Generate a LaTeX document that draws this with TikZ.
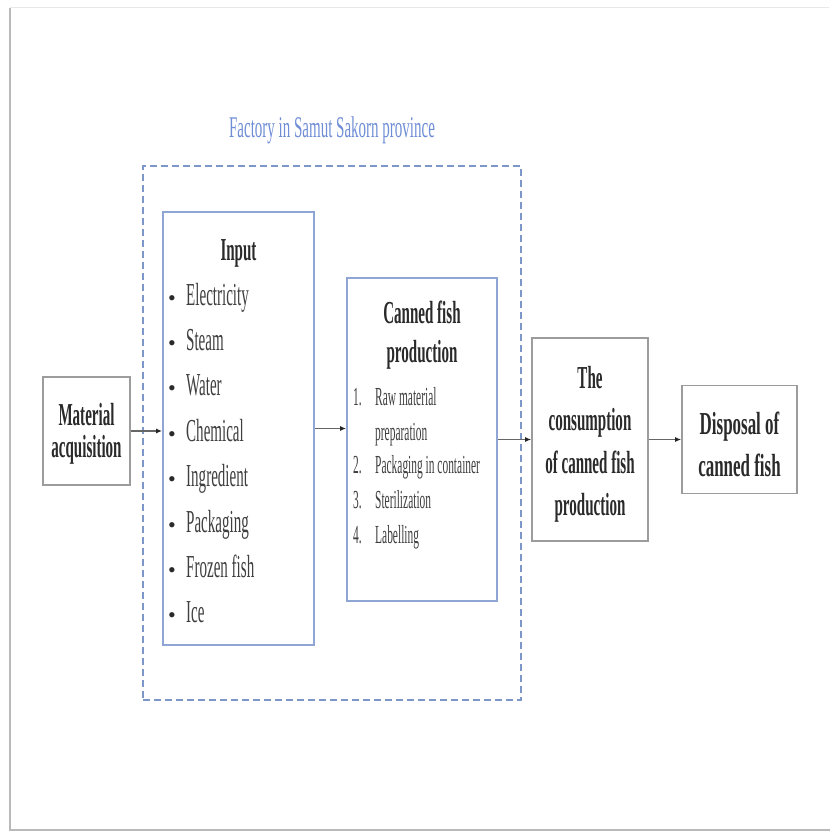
\documentclass[tikz,border=0pt]{standalone}
\usepackage{fontspec}
\setmainfont{Liberation Serif}
\newfontfamily\condA{Liberation Serif}[FakeStretch=0.47]
\newfontfamily\condT{Liberation Serif}[FakeStretch=0.5]
\newfontfamily\condS{Liberation Serif}[FakeStretch=0.44]
\newfontfamily\condD{Liberation Serif}[FakeStretch=0.53]
\usetikzlibrary{arrows.meta}
\definecolor{txt}{HTML}{2A2A2A}
\definecolor{bluebox}{HTML}{8FA6D4}
\definecolor{dashblue}{HTML}{7E97C9}
\definecolor{titleblue}{HTML}{6F8ED6}
\definecolor{graybox}{HTML}{9C9C9C}
\definecolor{conn}{HTML}{666666}
\begin{document}
\begin{tikzpicture}[x=1pt,y=-1pt,
  gbox/.style={draw=graybox,line width=1.6pt,inner sep=0pt,fill=white},
  bbox/.style={draw=bluebox,line width=1.8pt,inner sep=0pt,fill=white},
  hd/.style={font=\condA\bfseries\fontsize{32}{34}\selectfont,text=txt,inner sep=0pt,anchor=base},
  hdd/.style={font=\condD\bfseries\fontsize{32}{34}\selectfont,text=txt,inner sep=0pt,anchor=base},
  itemtxt/.style={font=\condA\fontsize{32}{34}\selectfont,text=txt!90,inner sep=0pt,anchor=base west},
  smalltxt/.style={font=\condS\fontsize{26}{28}\selectfont,text=txt!90,inner sep=0pt,anchor=base west},
  bul/.style={font=\fontsize{22}{24}\selectfont,text=txt,inner sep=0pt,anchor=base},
  arr/.style={draw=conn,line width=1.4pt,-{Latex[length=6pt,width=5pt,color=black!85]}}
]
\useasboundingbox (0,0) rectangle (830,834);
\fill[white] (0,0) rectangle (830,834);
% page frame
\draw[gray!18,line width=1pt] (10,8) -- (829,8);
\draw[gray!55,line width=1.6pt] (10,8) -- (10,830) -- (830,830);

% title
\node[font=\condT\fontsize{30}{32}\selectfont,text=titleblue,inner sep=0pt] (title) at (332,130) {Factory in Samut Sakorn province};

% factory boundary
\node[draw=dashblue,dash pattern=on 7pt off 4pt,line width=2.2pt,minimum width=378pt,minimum height=534pt,inner sep=0pt] (factory) at (332,433) {};

% boxes
\node[gbox,minimum width=87pt,minimum height=108pt] (mat) at (86.5,431) {};
\node[bbox,minimum width=151pt,minimum height=433pt] (input) at (238.5,428.5) {};
\node[bbox,minimum width=150pt,minimum height=323pt] (canned) at (422,439.5) {};
\node[gbox,minimum width=116pt,minimum height=203pt] (cons) at (590,439.5) {};
\node[gbox,minimum width=115pt,minimum height=108pt] (disp) at (739.5,439.5) {};

% material acquisition text
\node[hd] (mat1) at (86.5,425) {Material};
\node[hd] (mat2) at (86.5,457) {acquisition};

% input text
\node[hd] (inhd) at (238.5,260) {Input};
\foreach \t [count=\i] in {Electricity,Steam,Water,Chemical,Ingredient,Packaging,Frozen fish,Ice} {
  \node[bul] (b\i) at (172,{305+45.4*(\i-1)}) {•};
  \node[itemtxt] (it\i) at (186,{305+45.4*(\i-1)}) {\t};
}

% canned fish production text
\node[hd] (cf1) at (422,323) {Canned fish};
\node[hd] (cf2) at (422,362) {production};
\node[smalltxt] (n1) at (353,405) {1.};
\node[smalltxt] (s1) at (375,405) {Raw material};
\node[smalltxt] (s1b) at (375,440) {preparation};
\node[smalltxt] (n2) at (353,473) {2.};
\node[smalltxt] (s2) at (375,473) {Packaging in container};
\node[smalltxt] (n3) at (353,508) {3.};
\node[smalltxt] (s3) at (375,508) {Sterilization};
\node[smalltxt] (n4) at (353,543) {4.};
\node[smalltxt] (s4) at (375,543) {Labelling};

% consumption text
\node[hd] (c1) at (590,388) {The};
\node[hd] (c2) at (590,430) {consumption};
\node[hd] (c3) at (590,473) {of canned fish};
\node[hd] (c4) at (590,515) {production};

% disposal text
\node[hdd] (d1) at (739.5,434) {Disposal of};
\node[hdd] (d2) at (739.5,476) {canned fish};

% connectors
\draw[arr] (mat.east) -- (mat.east -| input.west);
\draw[arr] (input.east) -- (input.east -| canned.west);
\draw[arr] (canned.east) -- (canned.east -| cons.west);
\draw[arr] (cons.east) -- (cons.east -| disp.west);
\end{tikzpicture}
\end{document}
